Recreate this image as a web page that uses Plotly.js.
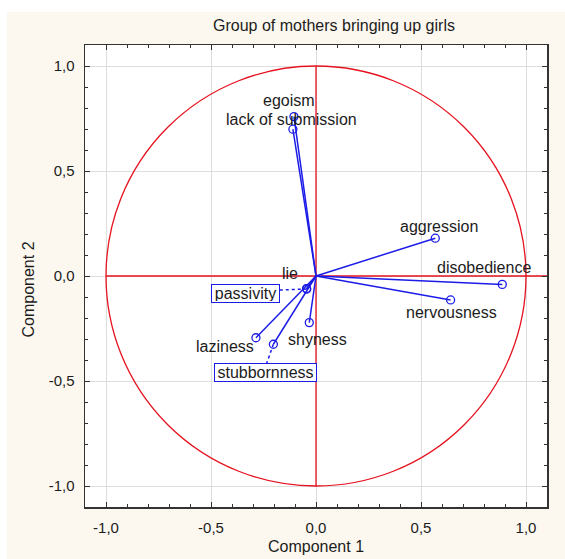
<!DOCTYPE html>
<html>
<head>
<meta charset="utf-8">
<script src="https://cdn.plot.ly/plotly-3.0.1.min.js"></script>
<style>
  html, body { margin: 0; padding: 0; background: #ffffff; width: 565px; height: 559px; overflow: hidden; }
  #chart { position: absolute; left: 7px; top: 12px; width: 558px; height: 547px; }
</style>
</head>
<body>
<div id="chart"></div>
<script>
// Factor loadings of the behaviour variables on the first two components
const variables = ['egoism', 'lack of submission', 'aggression', 'disobedience', 'nervousness',
                   'lie', 'passivity', 'shyness', 'laziness', 'stubbornness'];
const component1 = [-0.105, -0.110, 0.568, 0.887, 0.641, -0.045, -0.044, -0.032, -0.286, -0.203];
const component2 = [0.759, 0.699, 0.180, -0.040, -0.114, -0.060, -0.062, -0.222, -0.294, -0.325];

const tickValues = [-1.0, -0.5, 0.0, 0.5, 1.0];
const tickLabels = ['-1,0', '-0,5', '0,0', '0,5', '1,0'];

// Label placement (pixel offsets from each point, x right / y down) and boxed labels
const labelOffsets = {
  'egoism': [-5, -16], 'lack of submission': [-1, -10], 'aggression': [4, -12],
  'disobedience': [-18, -17], 'nervousness': [1, 13], 'lie': [-17, -15],
  'passivity': [-61, 4], 'shyness': [8, 17], 'laziness': [-31, 9], 'stubbornness': [-8, 28]
};
const boxed = {
  'passivity': { w: 65, h: 15, leader: [-28, 1] },
  'stubbornness': { w: 99, h: 15, leader: [-7, 20] }
};

const RANGE = [-1.1, 1.1];
const PLOT_PX = 462;
const pxPerUnit = PLOT_PX / (RANGE[1] - RANGE[0]);

const BLUE = '#1c1ce8';
const RED = '#e5121f';
const TEXT = '#1c1c1c';
const FONT = 'Liberation Sans, Arial, sans-serif';

// Vectors from the origin to every loading
const vx = [], vy = [];
variables.forEach((v, i) => { vx.push(0, component1[i], null); vy.push(0, component2[i], null); });

// Dotted leaders from displaced labels back to their points
const lx = [], ly = [];
variables.forEach((v, i) => {
  if (boxed[v]) {
    const [dx, dy] = boxed[v].leader;
    lx.push(component1[i], component1[i] + dx / pxPerUnit, null);
    ly.push(component2[i], component2[i] - dy / pxPerUnit, null);
  }
});

const traces = [
  { x: vx, y: vy, mode: 'lines', line: { color: BLUE, width: 1.5 }, hoverinfo: 'skip', showlegend: false },
  { x: lx, y: ly, mode: 'lines', line: { color: BLUE, width: 1.5, dash: 'dot' }, hoverinfo: 'skip', showlegend: false },
  { x: component1, y: component2, text: variables, mode: 'markers',
    marker: { symbol: 'circle-open', size: 8, color: BLUE, line: { color: BLUE, width: 1.3 } },
    showlegend: false }
];

const annotations = variables.map((v, i) => {
  const [ox, oy] = labelOffsets[v];
  const a = {
    x: component1[i], y: component2[i], xref: 'x', yref: 'y',
    text: v, showarrow: false, xshift: ox, yshift: -oy,
    font: { family: FONT, size: 16, color: TEXT }
  };
  if (boxed[v]) {
    Object.assign(a, { bordercolor: BLUE, borderwidth: 1, borderpad: 1, bgcolor: '#ffffff',
                       width: boxed[v].w, height: boxed[v].h });
  }
  return a;
});

// Vertical axis title, placed beside the tick labels
annotations.push({
  text: 'Component 2', textangle: -90, showarrow: false,
  xref: 'paper', yref: 'paper', x: -47 / PLOT_PX, y: 0.5 - 13 / PLOT_PX,
  xanchor: 'right', yanchor: 'middle',
  font: { family: FONT, size: 16, color: TEXT }
});

const axisCommon = {
  range: RANGE, autorange: false,
  tickvals: tickValues, ticktext: tickLabels,
  ticks: 'inside', ticklen: 5, tickwidth: 1, tickcolor: '#333333',
  minor: { dtick: 0.1, tick0: 0, ticks: 'inside', ticklen: 3, tickcolor: '#333333', showgrid: false },
  showgrid: true, gridcolor: '#dedede', gridwidth: 1,
  zeroline: false,
  showline: true, linecolor: '#333333', linewidth: 1.5, mirror: 'ticks',
  tickfont: { family: FONT, size: 15, color: TEXT }
};

const layout = {
  width: 558, height: 547,
  paper_bgcolor: '#fcf8ef', plot_bgcolor: '#ffffff',
  margin: { l: 78, r: 18, t: 33, b: 52, pad: 0 },
  title: {
    text: 'Group of mothers bringing up girls',
    font: { family: FONT, size: 16, color: TEXT },
    xref: 'container', x: 0.586, xanchor: 'center',
    yref: 'container', y: 0.976, yanchor: 'middle'
  },
  xaxis: Object.assign({}, axisCommon, {
    title: { text: 'Component 1', font: { family: FONT, size: 16, color: TEXT }, standoff: 6 },
    ticklabelstandoff: 6
  }),
  yaxis: Object.assign({}, axisCommon, {
    ticklabelstandoff: 6,
    scaleanchor: 'x', scaleratio: 1
  }),
  shapes: [
    { type: 'circle', xref: 'x', yref: 'y', x0: -1, y0: -1, x1: 1, y1: 1,
      line: { color: RED, width: 1.3 }, layer: 'between' },
    { type: 'line', xref: 'x', yref: 'y', x0: -1, y0: 0, x1: RANGE[1], y1: 0,
      line: { color: RED, width: 1.3 }, layer: 'between' },
    { type: 'line', xref: 'x', yref: 'y', x0: 0, y0: -1, x1: 0, y1: 1,
      line: { color: RED, width: 1.3 }, layer: 'between' }
  ],
  annotations: annotations,
  hovermode: 'closest'
};

Plotly.newPlot('chart', traces, layout, { displayModeBar: false, staticPlot: true });
</script>
</body>
</html>
